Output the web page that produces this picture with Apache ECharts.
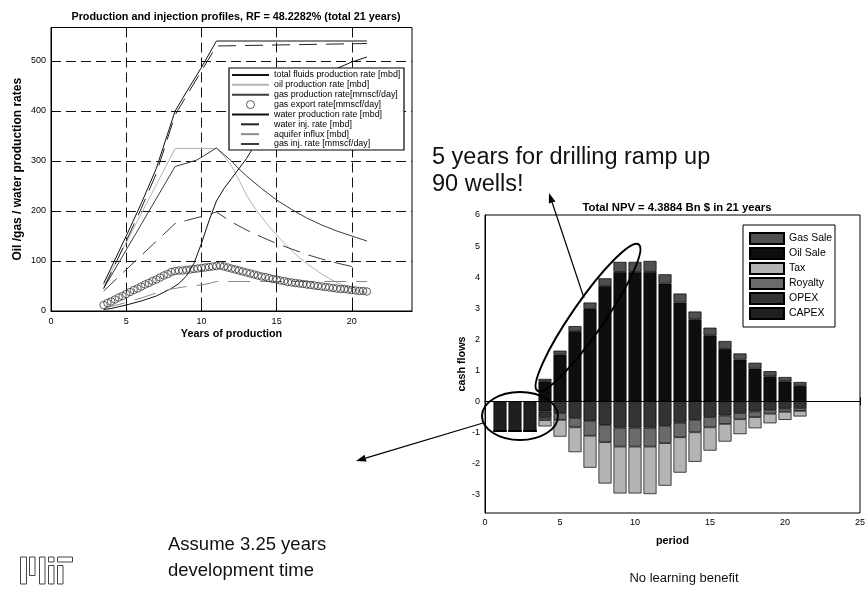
<!DOCTYPE html>
<html>
<head>
<meta charset="utf-8">
<script src="https://cdn.jsdelivr.net/npm/echarts@6/dist/echarts.min.js"></script>
<style>
  html, body { margin: 0; padding: 0; background: #fff; }
  #chart { width: 868px; height: 590px; }
</style>
</head>
<body>
<div id="chart"></div>
<script>
// ---------- Production / injection profiles (years, rates) ----------
const totalFluidsYears = [3.5, 5, 6, 7, 8.25, 9, 10, 11, 21];
const totalFluidsRate  = [55, 150, 215, 285, 400, 438, 487, 540, 540];

const oilYears = [3.5, 8.25, 11, 11.5, 12, 12.5, 13, 13.5, 14, 14.5, 15, 15.5, 16, 16.5, 17, 17.5, 18, 18.5, 19, 19.5, 20, 20.5, 21];
const oilRate  = [50, 325, 325, 310, 290, 262, 232, 208, 188, 169, 152, 136, 121, 107, 95, 84, 74, 65, 57, 50, 44, 40, 37];

const gasProdYears = [3.5, 8.25, 9.7, 11, 12, 12.5, 13, 14, 15, 16, 17, 18, 19, 20, 21];
const gasProdRate  = [45, 289, 302, 326, 300, 284, 270, 245, 222, 203, 186, 172, 160, 150, 140];

const gasExportYears = [3.5, 3.75, 4, 4.25, 4.5, 4.75, 5, 5.25, 5.5, 5.75, 6, 6.25, 6.5, 6.75, 7, 7.25, 7.5, 7.75,
  8, 8.25, 8.5, 8.75, 9, 9.25, 9.5, 9.75, 10, 10.25, 10.5, 10.75, 11, 11.25, 11.5, 11.75, 12, 12.25, 12.5, 12.75,
  13, 13.25, 13.5, 13.75, 14, 14.25, 14.5, 14.75, 15, 15.25, 15.5, 15.75, 16, 16.25, 16.5, 16.75, 17, 17.25, 17.5,
  17.75, 18, 18.25, 18.5, 18.75, 19, 19.25, 19.5, 19.75, 20, 20.25, 20.5, 20.75, 21];
const gasExportRate = [12, 16, 19, 23, 27, 30, 34, 38, 42, 45, 49, 53, 56, 60, 63, 67, 71, 74,
  78, 80, 81, 81, 82, 83, 84, 85, 86, 87, 88, 89, 90, 91, 89, 87, 85, 83, 81, 79,
  77, 75, 73, 71, 69, 68, 66, 64, 63, 61, 60, 58, 57, 56, 55, 54, 53, 52, 51,
  50, 49, 48, 47, 46, 45, 44, 44, 43, 42, 41, 40, 40, 39];

const waterProdYears = [3.5, 4, 5, 6, 7, 8, 8.5, 9, 9.5, 10, 10.5, 11, 11.5, 12, 12.5, 13, 13.5, 14, 15, 16, 17, 18, 19, 20, 21];
const waterProdRate  = [3, 5, 12, 20, 30, 45, 55, 70, 95, 135, 180, 220, 245, 265, 285, 305, 330, 352, 390, 420, 445, 467, 485, 498, 508];

const waterInjYears = [3.5, 5, 6, 7, 8.25, 9, 10, 11, 21];
const waterInjRate  = [45, 140, 205, 275, 392, 430, 480, 530, 535];

const aquiferYears = [3.5, 5, 6, 7, 8, 9, 10, 10.5, 11, 21];
const aquiferRate  = [5, 17, 26, 36, 44, 49, 52, 55, 59, 59];

const gasInjYears = [3.5, 8.25, 9, 10, 11, 12, 13, 14, 15, 16, 17, 18, 19, 20];
const gasInjRate  = [40, 175, 181, 189, 198, 178, 162, 148, 135, 124, 113, 104, 96, 89];

const profileTicksX = [0, 5, 10, 15, 20];
const profileTicksY = [0, 100, 200, 300, 400, 500];

// ---------- Yearly cash flows (Bn $) ----------
const periodAxis = ['0', '1', '2', '3', '4', '5', '6', '7', '8', '9', '10', '11', '12',
                    '13', '14', '15', '16', '17', '18', '19', '20', '21', '22', '23', '24', '25'];
const periods  = [1, 2, 3, 4, 5, 6, 7, 8, 9, 10, 11, 12, 13, 14, 15, 16, 17, 18, 19, 20, 21];
const oilSale  = [0, 0, 0, 0.64, 1.50, 2.26, 2.98, 3.72, 4.17, 4.17, 4.17, 3.79, 3.18, 2.64, 2.12, 1.69, 1.34, 1.05, 0.80, 0.64, 0.50];
const gasSale  = [0, 0, 0, 0.08, 0.13, 0.16, 0.20, 0.24, 0.32, 0.32, 0.35, 0.30, 0.29, 0.25, 0.25, 0.25, 0.20, 0.19, 0.17, 0.14, 0.12];
const capex    = [-0.96, -0.96, -0.96, -0.33, 0, 0, 0, 0, 0, 0, 0, 0, 0, 0, 0, 0, 0, 0, 0, 0, 0];
const opex     = [0, 0, 0, -0.20, -0.38, -0.54, -0.63, -0.76, -0.85, -0.85, -0.85, -0.79, -0.69, -0.60, -0.51, -0.46, -0.38, -0.33, -0.28, -0.24, -0.22];
const royalty  = [0, 0, 0, -0.08, -0.22, -0.30, -0.48, -0.56, -0.61, -0.61, -0.61, -0.56, -0.47, -0.40, -0.33, -0.27, -0.20, -0.18, -0.12, -0.10, -0.09];
const tax      = [0, 0, 0, -0.20, -0.54, -0.80, -1.03, -1.33, -1.51, -1.51, -1.53, -1.37, -1.14, -0.95, -0.75, -0.57, -0.48, -0.36, -0.31, -0.26, -0.18];

const cashTicksY = [-3, -2, -1, 0, 1, 2, 3, 4, 5, 6];

// ---------- helpers ----------
const FONT = '"Liberation Sans", Arial, Helvetica, sans-serif';
const zip = (xs, ys) => xs.map((x, i) => [x, ys[i]]);

// place yearly values on the period category axis ('-' where no bar)
const onPeriodAxis = values => periodAxis.map(c => {
  const i = periods.indexOf(Number(c));
  return i >= 0 ? values[i] : '-';
});

function arrow(x1, y1, x2, y2) {
  const ang = Math.atan2(y2 - y1, x2 - x1);
  const len = 10, half = 3.5;
  const bx = x2 - len * Math.cos(ang), by = y2 - len * Math.sin(ang);
  const px = -Math.sin(ang) * half, py = Math.cos(ang) * half;
  return [
    { type: 'line', z: 10, shape: { x1: x1, y1: y1, x2: bx, y2: by }, style: { stroke: '#000', lineWidth: 1.2 } },
    { type: 'polygon', z: 10, shape: { points: [[x2, y2], [bx + px, by + py], [bx - px, by - py]] }, style: { fill: '#000' } }
  ];
}

const axisBlack = { show: true, lineStyle: { color: '#000', width: 1 } };
const tickIn = { inside: true, length: 4, lineStyle: { color: '#000' } };
const labelStyle = { fontSize: 9, color: '#000', fontFamily: FONT };
const nameStyle = { fontSize: 10.8, fontWeight: 'bold', color: '#000', fontFamily: FONT };

const profileLine = (name, xs, ys, color, type) => ({
  name: name, type: 'line', xAxisIndex: 0, yAxisIndex: 0,
  data: zip(xs, ys), symbol: 'none', showSymbol: false, z: 3,
  lineStyle: { color: color, width: 1, type: type || 'solid' },
  itemStyle: { color: color }
});

const cashBar = (name, values, color) => ({
  name: name, type: 'bar', xAxisIndex: 1, yAxisIndex: 1, stack: 'cash',
  barWidth: 13, data: onPeriodAxis(values),
  itemStyle: { color: color, borderColor: '#000', borderWidth: 0.7 }
});

// legend swatches: plain line (no centre marker), or a short centred dash
const lineOnly = { itemStyle: { opacity: 0 } };
const dashLegend = { itemStyle: { opacity: 0 }, lineStyle: { type: [18, 100], dashOffset: 109 } };

const chart = echarts.init(document.getElementById('chart'), null, { renderer: 'canvas' });

const option = {
  animation: false,
  backgroundColor: '#fff',
  textStyle: { fontFamily: FONT },
  title: [
    { text: 'Production and injection profiles, RF = 48.2282% (total 21 years)', left: 231, top: 7, textAlign: 'center',
      textStyle: { fontSize: 10.8, fontWeight: 'bold', color: '#000', fontFamily: FONT } },
    { text: 'Total NPV = 4.3884 Bn $ in 21 years', left: 672, top: 197, textAlign: 'center',
      textStyle: { fontSize: 11.3, fontWeight: 'bold', color: '#000', fontFamily: FONT } }
  ],
  grid: [
    { left: 51, top: 27.5, width: 361, height: 283.5, show: true, borderColor: '#000', borderWidth: 1 },
    { left: 485, top: 215, width: 379, height: 298, show: true, borderColor: '#000', borderWidth: 1 }
  ],
  xAxis: [
    { gridIndex: 0, type: 'value', min: 0, max: 24, interval: 5,
      axisLine: axisBlack, axisTick: Object.assign({ customValues: profileTicksX }, tickIn),
      axisLabel: Object.assign({ customValues: profileTicksX, margin: 6 }, labelStyle),
      splitLine: { show: true, lineStyle: { color: '#111', width: 1, type: [10, 5] } },
      name: 'Years of production', nameLocation: 'middle', nameGap: 18, nameTextStyle: nameStyle },
    { gridIndex: 1, type: 'category', data: periodAxis, boundaryGap: false,
      axisLine: axisBlack, axisTick: Object.assign({ interval: 4 }, tickIn),
      axisLabel: Object.assign({ interval: 4, margin: 5 }, labelStyle),
      splitLine: { show: false },
      name: 'period', nameLocation: 'middle', nameGap: 23, nameTextStyle: nameStyle },
    { gridIndex: 1, type: 'category', data: periodAxis, boundaryGap: false, position: 'top',
      axisLine: { show: false }, axisTick: Object.assign({ interval: 4 }, tickIn),
      axisLabel: { show: false }, splitLine: { show: false } }
  ],
  yAxis: [
    { gridIndex: 0, type: 'value', min: 0, max: 567, interval: 100,
      axisLine: axisBlack, axisTick: Object.assign({ customValues: profileTicksY }, tickIn),
      axisLabel: Object.assign({ customValues: profileTicksY, margin: 5 }, labelStyle),
      splitLine: { show: true, lineStyle: { color: '#111', width: 1, type: [10, 5] } },
      name: 'Oil /gas / water production rates', nameLocation: 'middle', nameGap: 27, nameRotate: 90,
      nameTextStyle: Object.assign({}, nameStyle, { fontSize: 12 }) },
    { gridIndex: 1, type: 'value', min: -3.6, max: 6,
      axisLine: axisBlack, axisTick: Object.assign({ customValues: cashTicksY }, tickIn),
      axisLabel: Object.assign({ customValues: cashTicksY, margin: 5 }, labelStyle),
      splitLine: { show: false },
      name: 'cash flows', nameLocation: 'middle', nameGap: 17, nameRotate: 90, nameTextStyle: nameStyle },
    { gridIndex: 1, type: 'value', position: 'right', min: -3.6, max: 6,
      axisLine: { show: false }, axisTick: Object.assign({ customValues: cashTicksY }, tickIn),
      axisLabel: { show: false }, splitLine: { show: false } }
  ],
  legend: [
    { orient: 'vertical', left: 231, top: 70.5, padding: 0, itemWidth: 37, itemHeight: 8, itemGap: 0.86,
      selectedMode: false, z: 12,
      textStyle: { fontSize: 8.9, color: '#000', fontFamily: FONT },
      data: [
        Object.assign({ name: 'total fluids production rate [mbd]' }, lineOnly),
        Object.assign({ name: 'oil production rate [mbd]' }, lineOnly),
        Object.assign({ name: 'gas production rate[mmscf/day]' }, lineOnly),
        { name: 'gas export rate[mmscf/day]', icon: 'circle', itemStyle: { color: '#fff', borderColor: '#333', borderWidth: 1 } },
        Object.assign({ name: 'water production rate [mbd]' }, lineOnly),
        Object.assign({ name: 'water inj. rate [mbd]' }, dashLegend),
        Object.assign({ name: 'aquifer influx [mbd]' }, dashLegend),
        Object.assign({ name: 'gas inj. rate [mmscf/day]' }, dashLegend)
      ] },
    { orient: 'vertical', left: 749, top: 232, padding: 0, itemWidth: 34, itemHeight: 11, itemGap: 2,
      selectedMode: false, z: 12, icon: 'rect',
      textStyle: { fontSize: 10.5, color: '#000', fontFamily: FONT },
      data: ['Gas Sale', 'Oil Sale', 'Tax', 'Royalty', 'OPEX', 'CAPEX'] }
  ],
  series: [
    profileLine('total fluids production rate [mbd]', totalFluidsYears, totalFluidsRate, '#111'),
    profileLine('oil production rate [mbd]', oilYears, oilRate, '#b4b4b4'),
    profileLine('gas production rate[mmscf/day]', gasProdYears, gasProdRate, '#3c3c3c'),
    { name: 'gas export rate[mmscf/day]', type: 'scatter', xAxisIndex: 0, yAxisIndex: 0, z: 4,
      data: zip(gasExportYears, gasExportRate), symbol: 'circle', symbolSize: 7.5,
      itemStyle: { color: 'rgba(0,0,0,0)', borderColor: '#383838', borderWidth: 1 } },
    profileLine('water production rate [mbd]', waterProdYears, waterProdRate, '#111'),
    profileLine('water inj. rate [mbd]', waterInjYears, waterInjRate, '#222', [18, 9]),
    profileLine('aquifer influx [mbd]', aquiferYears, aquiferRate, '#8a8a8a', [22, 10]),
    profileLine('gas inj. rate [mmscf/day]', gasInjYears, gasInjRate, '#3c3c3c', [18, 9]),

    cashBar('CAPEX', capex, '#1f1f1f'),
    cashBar('OPEX', opex, '#333333'),
    cashBar('Royalty', royalty, '#6a6a6a'),
    cashBar('Tax', tax, '#b4b4b4'),
    cashBar('Oil Sale', oilSale, '#0e0e0e'),
    cashBar('Gas Sale', gasSale, '#505050')
  ],
  graphic: [
    // legend frames
    { type: 'rect', z: 11, shape: { x: 229, y: 68, width: 175, height: 82 },
      style: { fill: '#fff', stroke: '#000', lineWidth: 1.2 } },
    { type: 'rect', z: 11, shape: { x: 743, y: 225, width: 92, height: 102 },
      style: { fill: '#fff', stroke: '#000', lineWidth: 1 } },
    // callout ellipses
    { type: 'ellipse', z: 10, x: 588, y: 317.5, rotation: 55.3 * Math.PI / 180,
      shape: { cx: 0, cy: 0, rx: 89, ry: 16 }, style: { fill: 'none', stroke: '#000', lineWidth: 2 } },
    { type: 'ellipse', z: 10, x: 520, y: 416,
      shape: { cx: 0, cy: 0, rx: 38, ry: 24 }, style: { fill: 'none', stroke: '#000', lineWidth: 2 } },
    ...arrow(584, 298, 549, 193),
    ...arrow(483, 423, 356, 461),
    // annotations
    { type: 'text', z: 10, x: 432, y: 171.5,
      style: { text: '5 years for drilling ramp up\n90 wells!', font: '23.5px ' + FONT, fill: '#111',
               verticalAlign: 'middle', lineHeight: 27 } },
    { type: 'text', z: 10, x: 168, y: 558,
      style: { text: 'Assume 3.25 years\ndevelopment time', font: '18.5px ' + FONT, fill: '#111',
               verticalAlign: 'middle', lineHeight: 26 } },
    { type: 'text', z: 10, x: 684, y: 578,
      style: { text: 'No learning benefit', font: '13px ' + FONT, fill: '#111', align: 'center', verticalAlign: 'middle' } },
    // institute logo
    { type: 'group', z: 10, children: [
      { type: 'rect', shape: { x: 20.5, y: 557, width: 6, height: 27 }, style: { fill: 'none', stroke: '#444', lineWidth: 1 } },
      { type: 'rect', shape: { x: 29.5, y: 557, width: 5.5, height: 18.5 }, style: { fill: 'none', stroke: '#444', lineWidth: 1 } },
      { type: 'rect', shape: { x: 39.5, y: 557, width: 5.5, height: 27 }, style: { fill: 'none', stroke: '#444', lineWidth: 1 } },
      { type: 'rect', shape: { x: 48.5, y: 557, width: 5.5, height: 5 }, style: { fill: 'none', stroke: '#444', lineWidth: 1 } },
      { type: 'rect', shape: { x: 48.5, y: 565.5, width: 5.5, height: 18.5 }, style: { fill: 'none', stroke: '#444', lineWidth: 1 } },
      { type: 'rect', shape: { x: 57.5, y: 565.5, width: 5.5, height: 18.5 }, style: { fill: 'none', stroke: '#444', lineWidth: 1 } },
      { type: 'rect', shape: { x: 57.5, y: 557, width: 15, height: 5 }, style: { fill: 'none', stroke: '#444', lineWidth: 1 } }
    ] }
  ]
};

chart.setOption(option);
</script>
</body>
</html>
